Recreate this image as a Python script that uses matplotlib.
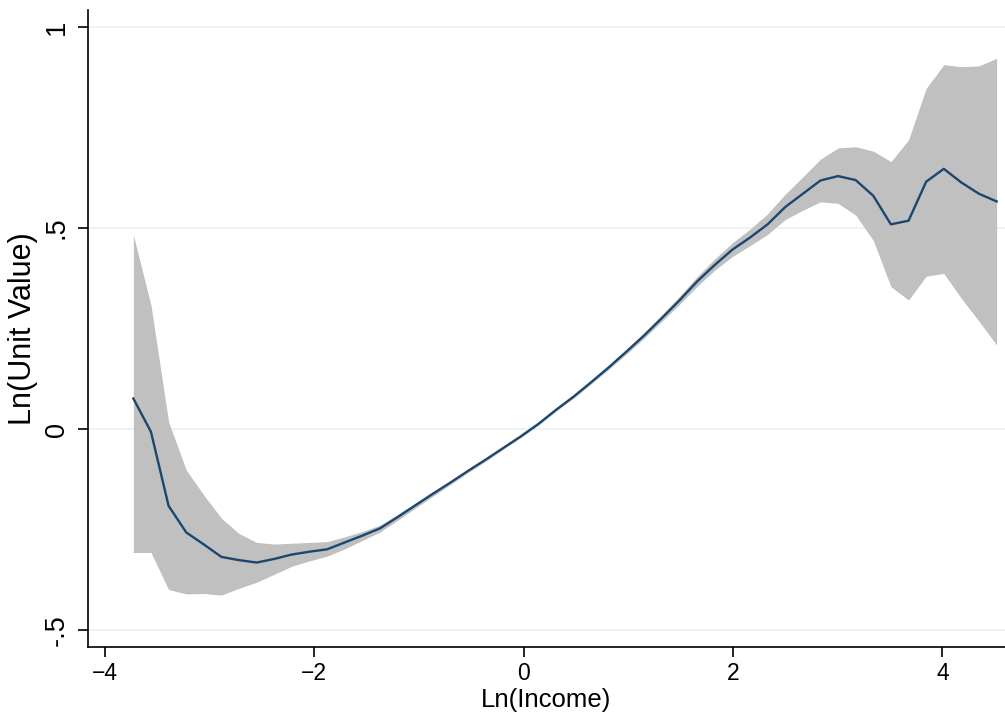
import numpy as np
import matplotlib.pyplot as plt

plt.rcParams['font.family'] = ['Liberation Sans', 'DejaVu Sans']

# evaluation grid: 50 points from -3.725 to 4.517
x_start, x_end, n_pts = -3.725, 4.517, 50
ln_income = np.linspace(x_start, x_end, n_pts)

fit = [0.076, -0.007, -0.191, -0.257, -0.287, -0.318, -0.326, -0.332, -0.323, -0.312,
       -0.305, -0.299, -0.282, -0.265, -0.247, -0.219, -0.190, -0.161, -0.133, -0.104,
       -0.076, -0.047, -0.018, 0.013, 0.048, 0.081, 0.117, 0.154, 0.193, 0.233,
       0.276, 0.320, 0.367, 0.408, 0.446, 0.476, 0.509, 0.552, 0.585, 0.618,
       0.629, 0.619, 0.580, 0.509, 0.518, 0.615, 0.647, 0.613, 0.585, 0.566]

ci_upper = [0.483, 0.308, 0.018, -0.102, -0.164, -0.222, -0.260, -0.282, -0.286, -0.284,
            -0.282, -0.280, -0.268, -0.255, -0.239, -0.212, -0.184, -0.156, -0.129, -0.101,
            -0.073, -0.044, -0.015, 0.016, 0.051, 0.085, 0.121, 0.159, 0.199, 0.240,
            0.284, 0.330, 0.379, 0.423, 0.463, 0.497, 0.535, 0.584, 0.627, 0.671,
            0.699, 0.702, 0.691, 0.665, 0.719, 0.847, 0.906, 0.901, 0.903, 0.922]

ci_lower = [-0.307, -0.307, -0.399, -0.410, -0.409, -0.413, -0.396, -0.381, -0.361, -0.341,
            -0.328, -0.316, -0.298, -0.277, -0.256, -0.227, -0.197, -0.167, -0.138, -0.108,
            -0.080, -0.050, -0.021, 0.010, 0.045, 0.077, 0.113, 0.149, 0.187, 0.226,
            0.268, 0.310, 0.355, 0.395, 0.429, 0.456, 0.484, 0.521, 0.544, 0.565,
            0.561, 0.532, 0.469, 0.354, 0.321, 0.380, 0.387, 0.325, 0.268, 0.209]

xticks = [-4, -2, 0, 2, 4]
xtick_labels = ['\u22124', '\u22122', '0', '2', '4']
yticks = [-0.5, 0, 0.5, 1]
ytick_labels = ['-.5', '0', '.5', '1']

fig = plt.figure(figsize=(10.05, 7.21), dpi=100)
ax = fig.add_axes([88 / 1005, 74 / 721, 917 / 1005, 637 / 721])

for yv in yticks:
    ax.axhline(yv, color='#eaf2f3', lw=1.3, zorder=0)

ax.fill_between(ln_income, ci_lower, ci_upper, color='#c0c0c0', lw=0, zorder=1)
ax.plot(ln_income, fit, color='#1a476f', lw=1.7, zorder=2)

ax.set_xlim(-4.158, 4.597)
ax.set_ylim(-0.542, 1.042)

ax.set_xticks(xticks)
ax.set_xticklabels(xtick_labels)
ax.set_yticks(yticks)
# the original image is stretched vertically, so vertical text runs longer
ax.set_yticklabels(ytick_labels, rotation=90, va='center', fontsize=19.5)

for s in ['top', 'right']:
    ax.spines[s].set_visible(False)
for s in ['left', 'bottom']:
    ax.spines[s].set_linewidth(1.2)
    ax.spines[s].set_color('black')

ax.tick_params(axis='both', length=7, width=1.2, colors='black')
ax.tick_params(axis='x', pad=4, labelsize=16.5)
ax.tick_params(axis='y', pad=6)

ax.set_xlabel('Ln(Income)', fontsize=18.5, labelpad=2)
ax.set_ylabel('Ln(Unit Value)', fontsize=22, labelpad=4)

fig.savefig('out.png', dpi=100)
